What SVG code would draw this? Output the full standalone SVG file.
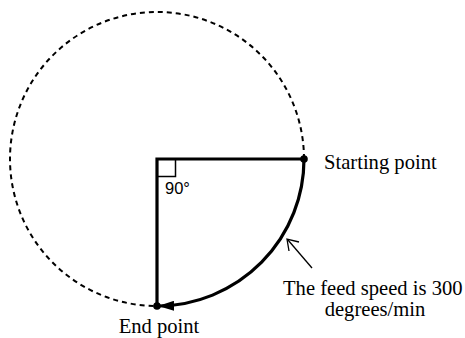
<svg xmlns="http://www.w3.org/2000/svg" width="465" height="338" viewBox="0 0 465 338">
<style>
.serif{font-family:"Liberation Serif","Times New Roman",serif;font-size:20.6px;fill:#000}
.sans{font-family:"Liberation Sans",Arial,sans-serif;font-size:16.5px;fill:#000}
.thick{fill:none;stroke:#000;stroke-width:3.2}
.dash{fill:none;stroke:#000;stroke-width:2;stroke-dasharray:5 4}
.thin{fill:none;stroke:#000;stroke-width:1.3}
</style>
<defs>
<marker id="head" markerWidth="16" markerHeight="10" refX="15" refY="5" orient="auto" markerUnits="userSpaceOnUse">
<path d="M0,0 L16,5 L0,10 Z" fill="#000"/>
</marker>
</defs>
<rect width="465" height="338" fill="#fff"/>
<g id="circle">
<path class="dash" d="M304,159 A147,147 0 1 0 157,306"/>
</g>
<g id="sector">
<path class="thick" d="M304,159 L157,159 L157,306"/>
<rect x="157" y="159" width="18.5" height="17.5" fill="none" stroke="#000" stroke-width="1.5"/>
<text class="sans" x="165" y="194">90°</text>
</g>
<g id="start">
<circle cx="304" cy="159" r="3.8" fill="#000"/>
<text class="serif" x="324" y="169">Starting point</text>
</g>
<g id="end">
<circle cx="157" cy="306" r="3.8" fill="#000"/>
<text class="serif" x="159" y="333" text-anchor="middle">End point</text>
</g>
<g id="connectors">
<path class="thick" d="M304,159 A147,147 0 0 1 159,306" marker-end="url(#head)"/>
<path class="thin" d="M312,268 L288,240"/>
<path class="thin" d="M299,242 L287,239 L289,251"/>
</g>
<g id="label">
<text class="serif" x="283" y="295">The feed speed is 300</text>
<text class="serif" x="375" y="316" text-anchor="middle">degrees/min</text>
</g>
</svg>
